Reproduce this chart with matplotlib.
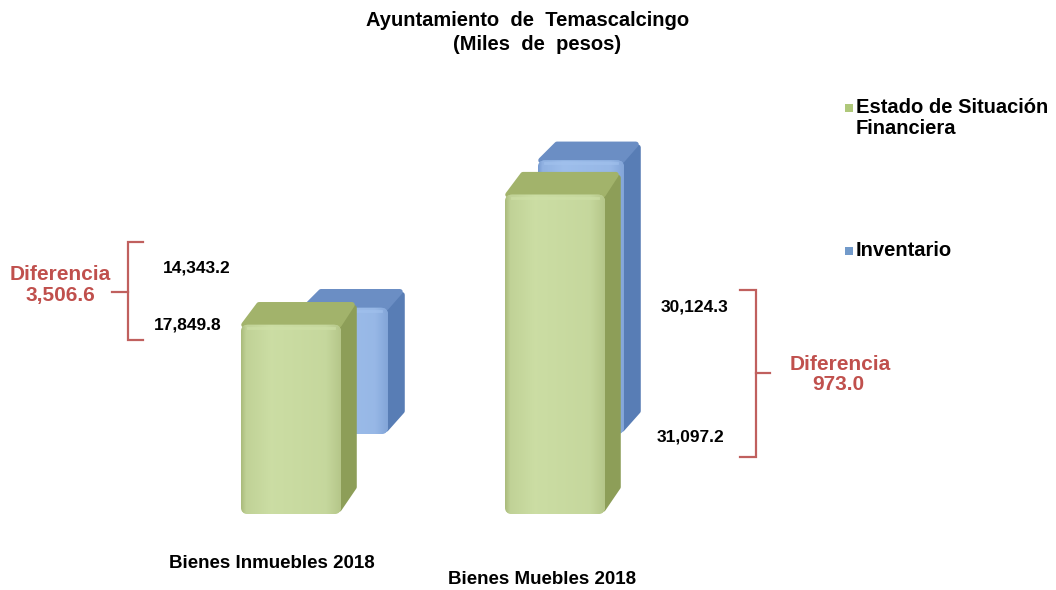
import numpy as np
import matplotlib.pyplot as plt
from matplotlib.patches import FancyBboxPatch, Polygon, Rectangle
from matplotlib.lines import Line2D

# datos (miles de pesos)
categorias = ['Bienes Inmuebles 2018', 'Bienes Muebles 2018']
estado = [17849.8, 30124.3]        # Estado de Situación Financiera
inventario = [14343.2, 31097.2]    # Inventario
series = ['Estado de Situación\nFinanciera', 'Inventario']
diferencias = [3506.6, 973.0]

W, H = 1056, 590
plt.rcParams['font.family'] = ['Liberation Sans', 'DejaVu Sans']
fig = plt.figure(figsize=(W / 100, H / 100), dpi=100)
fig.patch.set_facecolor('white')

ROJO = '#c0504d'


def px(x, y):
    # pixel (desde arriba) -> coordenadas de figura
    return x / W, 1 - y / H


def ejes(base_px, px_por_valor, x0_px, paso_px, z):
    ax = fig.add_axes([0, 0, 1, 1], zorder=z)
    ax.patch.set_alpha(0)
    ax.axis('off')
    upv = 1 / px_por_valor
    ax.set_xlim(-x0_px / paso_px, (W - x0_px) / paso_px)
    ax.set_ylim(-(H - base_px) * upv, base_px * upv)
    return ax


def caja(ax, x, v, ancho_px, dx_px, dy_px, c_frente, c_luz, c_sombra, c_top, c_lado):
    x0, x1 = ax.get_xlim()
    y0, y1 = ax.get_ylim()
    ux = (x1 - x0) / W
    uy = (y1 - y0) / H
    w = ancho_px * ux
    izq, der = x - w / 2, x + w / 2
    dx, dy = dx_px * ux, dy_px * uy
    # cara lateral
    lado = Polygon([(der - 2 * ux, 5 * uy), (der + dx - 2 * ux, dy + 5 * uy),
                    (der + dx - 2 * ux, v + dy - 5 * uy), (der - 2 * ux, v)],
                   closed=True, facecolor=c_lado, edgecolor=c_lado,
                   lw=4, joinstyle='round', zorder=2)
    ax.add_patch(lado)
    # cara superior
    top = Polygon([(izq + 3 * ux, v), (izq + dx + 3 * ux, v + dy - 2 * uy),
                   (der + dx - 4 * ux, v + dy - 2 * uy), (der - 2 * ux, v)],
                  closed=True, facecolor=c_top, edgecolor=c_top,
                  lw=4, joinstyle='round', zorder=2)
    ax.add_patch(top)
    # cara frontal con degradado
    frente = FancyBboxPatch((izq, 0), w, v,
                            boxstyle='round,pad=0,rounding_size=%f' % (7 * ux),
                            mutation_aspect=uy / ux, facecolor=c_frente,
                            edgecolor='none', zorder=3)
    ax.add_patch(frente)
    t = np.linspace(0, 1, 200)
    perfil = np.interp(t, [0, 0.05, 0.3, 0.85, 1], [0.0, 0.6, 0.9, 0.75, 0.3])
    a = np.array(plt.matplotlib.colors.to_rgb(c_sombra))
    b = np.array(plt.matplotlib.colors.to_rgb(c_luz))
    img = a[None, :] + perfil[:, None] * (b - a)[None, :]
    im = ax.imshow(img[None, :, :], extent=(izq, der, 0, v), aspect='auto',
                   zorder=4, interpolation='bilinear')
    im.set_clip_path(frente)
    # borde superior con brillo
    ax.add_line(Line2D([izq + 7 * ux, der - 7 * ux], [v - 3 * uy, v - 3 * uy],
                       color=c_luz, lw=2, alpha=0.6, zorder=5))


# fila trasera (Inventario)
ax_b = ejes(base_px=434, px_por_valor=0.0088, x0_px=345, paso_px=236, z=1)
# fila delantera (Estado de Situación Financiera)
ax_f = ejes(base_px=514, px_por_valor=0.0106, x0_px=291, paso_px=264, z=2)

for i, v in enumerate(inventario):
    caja(ax_b, i, v, 86, 16, 18, '#8fb4e3', '#a2c2ee', '#7699cf', '#6b8ec4', '#587db5')
for i, v in enumerate(estado):
    caja(ax_f, i, v, 100, 15, 22, '#c6d99c', '#cfe1a8', '#aabb7c', '#a2b36b', '#8d9e58')

# título
fig.text(*px(528, 20), 'Ayuntamiento  de  Temascalcingo', ha='center', va='center',
         fontsize=14.5, fontweight='bold')
fig.text(*px(537, 45), '(Miles  de  pesos)', ha='center', va='center',
         fontsize=14.5, fontweight='bold')

# categorías
fig.text(*px(272, 564), categorias[0], ha='center', va='center', fontsize=13.5, fontweight='bold')
fig.text(*px(542, 580), categorias[1], ha='center', va='center', fontsize=13.5, fontweight='bold')

# etiquetas de valores
fmt = lambda v: '{:,.1f}'.format(v)
fig.text(*px(197, 268), fmt(inventario[0]), ha='center', va='center', fontsize=12.5, fontweight='bold')
fig.text(*px(188, 325), fmt(estado[0]), ha='center', va='center', fontsize=12.5, fontweight='bold')
fig.text(*px(695, 307), fmt(estado[1]), ha='center', va='center', fontsize=12.5, fontweight='bold')
fig.text(*px(691, 437), fmt(inventario[1]), ha='center', va='center', fontsize=12.5, fontweight='bold')

# diferencias
fig.text(*px(60, 274), 'Diferencia', ha='center', va='center', fontsize=15,
         fontweight='bold', color=ROJO)
fig.text(*px(60, 295), fmt(diferencias[0]), ha='center', va='center', fontsize=15,
         fontweight='bold', color=ROJO)
fig.text(*px(840, 364), 'Diferencia', ha='center', va='center', fontsize=15,
         fontweight='bold', color=ROJO)
fig.text(*px(838, 385), fmt(diferencias[1]), ha='center', va='center', fontsize=15,
         fontweight='bold', color=ROJO)

# llaves
def linea(pts):
    xs, ys = zip(*[px(x, y) for x, y in pts])
    fig.add_artist(Line2D(xs, ys, color='#c0605e', lw=1.6, transform=fig.transFigure,
                          solid_joinstyle='miter'))

linea([(143, 242), (128, 242), (128, 340), (143, 340)])
linea([(112, 292), (128, 292)])
linea([(740, 290), (756, 290), (756, 457), (740, 457)])
linea([(756, 373), (770, 373)])

# leyenda
for (y, col, lab) in [(108, '#9bbb59', series[0]), (251, '#4f81bd', series[1])]:
    fx, fy = px(845, y + 4)
    fig.add_artist(Rectangle((fx, fy), 8 / W, 8 / H, transform=fig.transFigure,
                             facecolor=col, edgecolor='none', alpha=0.8))
    fig.text(*px(856, y - 10), lab, ha='left', va='top', fontsize=14.5, fontweight='bold',
             linespacing=1.15)

fig.savefig('out.png', dpi=100, facecolor='white')
